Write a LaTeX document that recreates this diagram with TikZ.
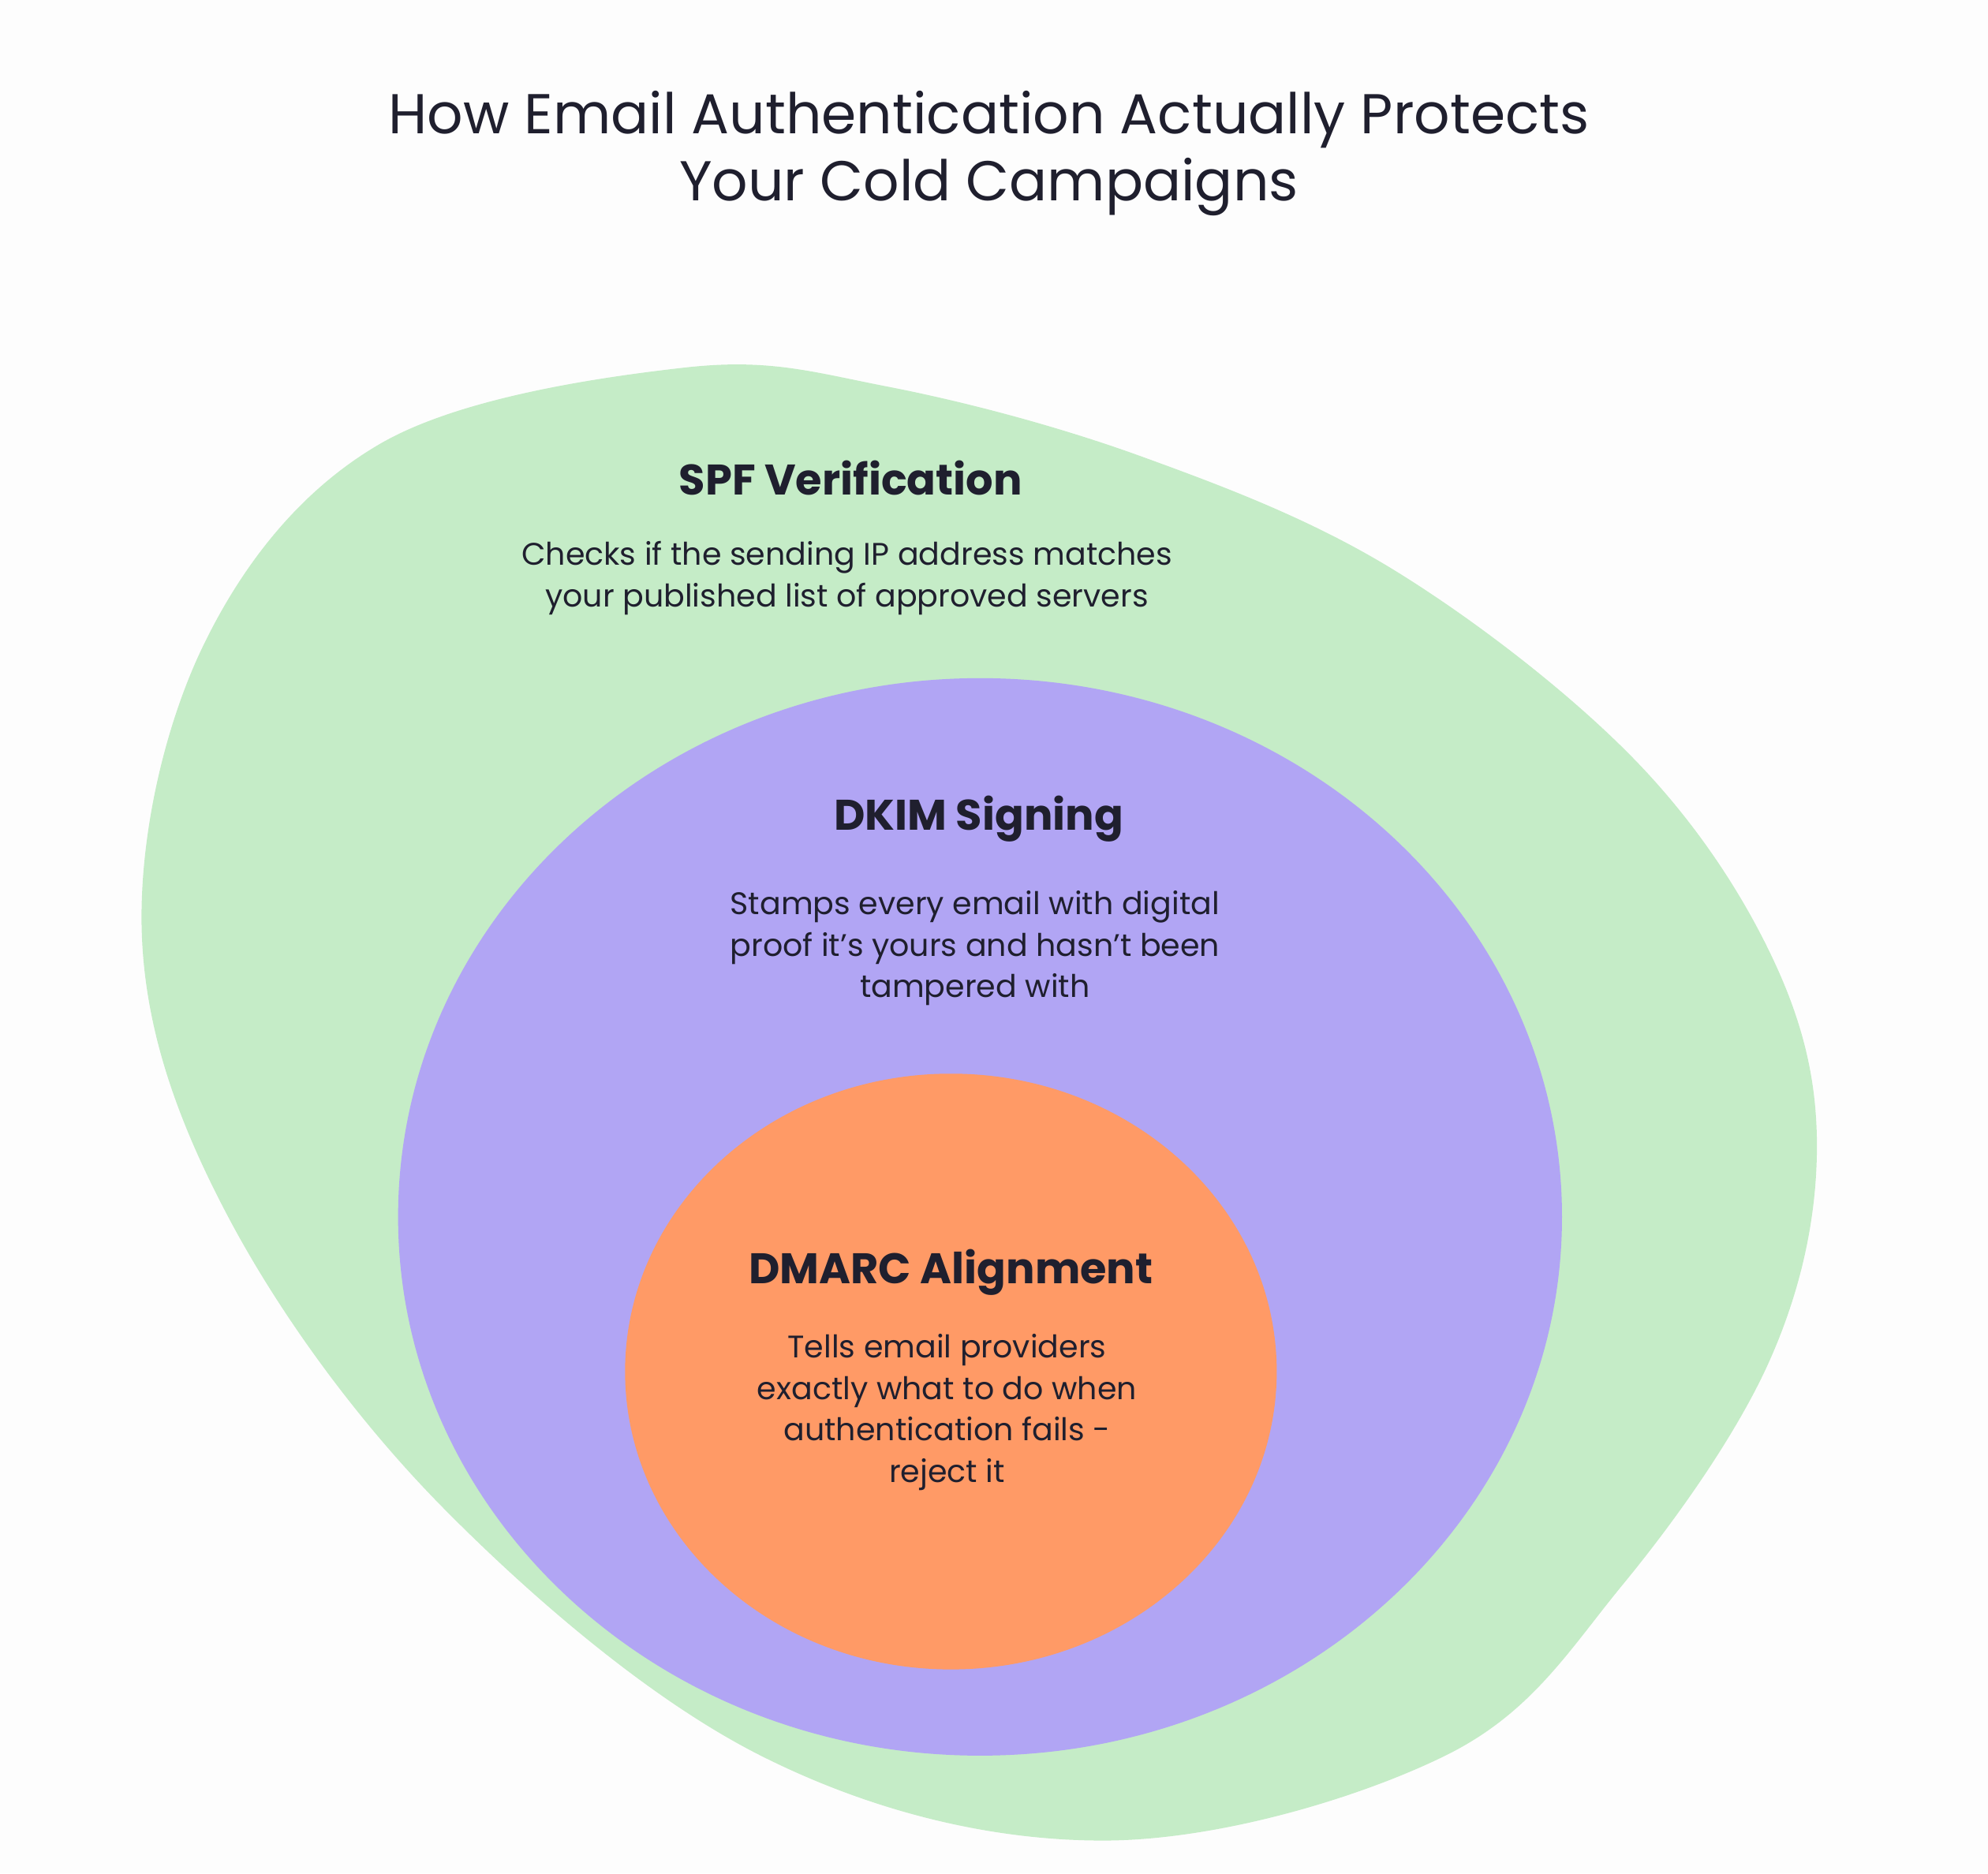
\documentclass[tikz,border=0pt]{standalone}
\usepackage{fontspec}
\setmainfont{Poppins}
\definecolor{bg}{HTML}{FDFDFD}
\definecolor{gr}{HTML}{C5ECC7}
\definecolor{pu}{HTML}{B1A5F4}
\definecolor{orr}{HTML}{FF9A66}
\definecolor{tx}{HTML}{1F1F2E}
\begin{document}
\begin{tikzpicture}[x=0.01cm,y=-0.01cm,
  ttl/.style={text=tx,align=center,font=\fontsize{12.6}{15.2}\selectfont},
  hd/.style={text=tx,font=\fontsize{9.6}{11}\selectfont\bfseries},
  ds/.style={text=tx,align=center,font=\fontsize{7}{9.3}\selectfont}]
\fill[bg] (0,0) rectangle (1568,1478);
\fill[gr] plot[smooth cycle,tension=0.6] coordinates {(540,290) (700,305) (900,360) (1100,450) (1290,600) (1400,760) (1433,910) (1395,1075) (1280,1250) (1140,1385) (870,1452) (600,1385) (350,1190) (180,960) (112,740) (160,510) (300,350)};
\fill[pu] (773,960) ellipse [x radius=459, y radius=425];
\fill[orr] (750,1082) ellipse [x radius=257, y radius=235];
\node[ttl] (title) at (780,121) {How Email Authentication Actually Protects\\Your Cold Campaigns};
\node[hd] (spf) at (671,377) {SPF Verification};
\node[ds] (spfd) at (668,456) {Checks if the sending IP address matches\\your published list of approved servers};
\node[hd] (dkim) at (772,646) {DKIM Signing};
\node[ds] (dkimd) at (769,748) {Stamps every email with digital\\proof it's yours and hasn't been\\tampered with};
\node[hd] (dmarc) at (750,1004) {DMARC Alignment};
\node[ds] (dmarcd) at (747,1114) {Tells email providers\\exactly what to do when\\authentication fails -\\reject it};
\end{tikzpicture}
\end{document}
